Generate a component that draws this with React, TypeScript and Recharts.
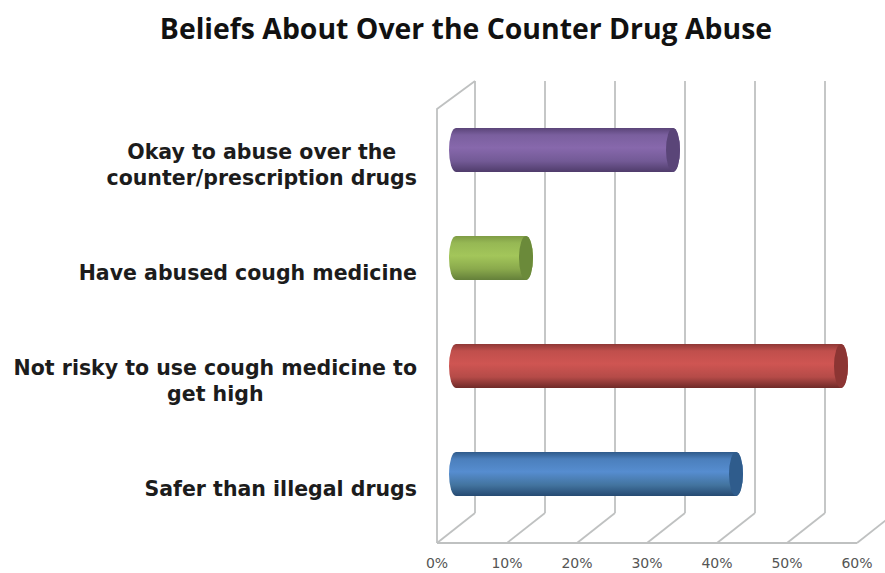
import React from "react";
import { BarChart, Bar, XAxis, YAxis, CartesianGrid } from "recharts";

const title = "Beliefs About Over the Counter Drug Abuse";
const categories = [
  "Okay to abuse over the\ncounter/prescription drugs",
  "Have abused cough medicine",
  "Not risky to use cough medicine to\nget high",
  "Safer than illegal drugs",
];
const values = [31, 10, 55, 40];
const xTicks = [0, 10, 20, 30, 40, 50, 60];
// top edge, upper shade, bright band, lower shade, bottom edge, end cap
const palettes = [
  ["#5a4478", "#7a5f9e", "#8768ac", "#735a96", "#4f3c6b", "#5a4578"],
  ["#7f9c45", "#96b854", "#a3c65a", "#8aa94c", "#64803a", "#6b8a3a"],
  ["#8f3836", "#c04f4c", "#cf5552", "#b54b48", "#6f2a28", "#8c3533"],
  ["#2f5a8a", "#4b7fbc", "#568dd0", "#43749f", "#264a72", "#2f5c8c"],
];

const rows = categories.map((name, i) => ({ name, value: values[i] }));

// Half the chart's depth: marks sit mid-way between the front plane and the back wall.
const DEPTH_X = 19;
const DEPTH_Y = 15;
const CAP_RX = 7;
const GRID = "#bfc1c1";
const LABEL_SIZE = 20.5;
const LABEL_FONT = `bold ${LABEL_SIZE}px 'DejaVu Sans'`;

function textWidth(s: string) {
  const ctx = document.createElement("canvas").getContext("2d")!;
  ctx.font = LABEL_FONT;
  return ctx.measureText(s).width;
}

function Wall(p: any) {
  const back = p.x1 + DEPTH_X;
  const front = p.x1 - DEPTH_X;
  const top = p.y1 - DEPTH_Y;
  const bottom = p.y2 - DEPTH_Y;
  const floor = p.y2 + DEPTH_Y;
  return (
    <g stroke={GRID} fill="none" strokeWidth={1.8}>
      <line x1={back} x2={back} y1={top} y2={bottom} />
      <line x1={front} x2={back} y1={floor} y2={bottom} />
      {p.index === 0 && (
        <>
          <polyline points={`${back},${top} ${front},${top + 2 * DEPTH_Y - 2} ${front},${floor}`} />
          <line x1={front} x2={front + 420} y1={floor} y2={floor} />
        </>
      )}
    </g>
  );
}

function Cylinder(p: any) {
  const { x, y, width, height, index } = p;
  const r = height / 2;
  const d =
    `M${x},${y} L${x + width},${y} A${CAP_RX},${r} 0 0 1 ${x + width},${y + height} ` +
    `L${x},${y + height} A${CAP_RX},${r} 0 0 1 ${x},${y} Z`;
  return (
    <g>
      <path d={d} fill={`url(#tube${index})`} />
      <ellipse cx={x + width} cy={y + r} rx={CAP_RX} ry={r} fill={palettes[index][5]} />
    </g>
  );
}

function CategoryTick(p: any) {
  const lines = String(p.payload.value).split("\n");
  const widest = Math.max(...lines.map(textWidth));
  const right = p.x - 31;
  const cx = right - widest / 2;
  const lineGap = 26;
  const first = p.y + DEPTH_Y - ((lines.length - 1) * lineGap) / 2 + 7;
  return (
    <text textAnchor="middle" fontFamily="'DejaVu Sans'" fontWeight="bold" fontSize={LABEL_SIZE} fill="#1c1c1c">
      {lines.map((l, i) => (
        <tspan key={i} x={cx} y={first + i * lineGap}>
          {l}
        </tspan>
      ))}
    </text>
  );
}

function PercentTick(p: any) {
  return (
    <text
      x={p.x - DEPTH_X}
      y={p.y + 32}
      textAnchor="middle"
      fontFamily="'DejaVu Sans'"
      fontSize={14}
      fill="#555"
    >
      {p.payload.value}%
    </text>
  );
}

export default function App() {
  return (
    <div style={{ position: "absolute", left: 0, top: 0, width: 885, height: 573, background: "#fff", overflow: "hidden" }}>
      <BarChart
        width={885}
        height={573}
        layout="vertical"
        data={rows}
        margin={{ top: 96, right: 9, bottom: 15, left: 0 }}
        barSize={44}
      >
        <defs>
          {palettes.map((c, i) => (
            <linearGradient key={i} id={`tube${i}`} x1="0" y1="0" x2="0" y2="1">
              <stop offset="0" stopColor={c[0]} />
              <stop offset="0.16" stopColor={c[1]} />
              <stop offset="0.45" stopColor={c[2]} />
              <stop offset="0.75" stopColor={c[3]} />
              <stop offset="1" stopColor={c[4]} />
            </linearGradient>
          ))}
        </defs>
        <text
          x={466}
          y={39}
          textAnchor="middle"
          fontFamily="'Open Sans'"
          fontWeight="bold"
          fontSize={28.4}
          fill="#111"
        >
          {title}
        </text>
        <CartesianGrid horizontal={false} vertical={Wall} />
        <XAxis
          type="number"
          domain={[0, 60]}
          ticks={xTicks}
          interval={0}
          height={30}
          axisLine={false}
          tickLine={false}
          tick={PercentTick}
        />
        <YAxis
          type="category"
          dataKey="name"
          width={456}
          interval={0}
          axisLine={false}
          tickLine={false}
          tick={CategoryTick}
        />
        <Bar dataKey="value" isAnimationActive={false} shape={Cylinder} />
      </BarChart>
    </div>
  );
}
